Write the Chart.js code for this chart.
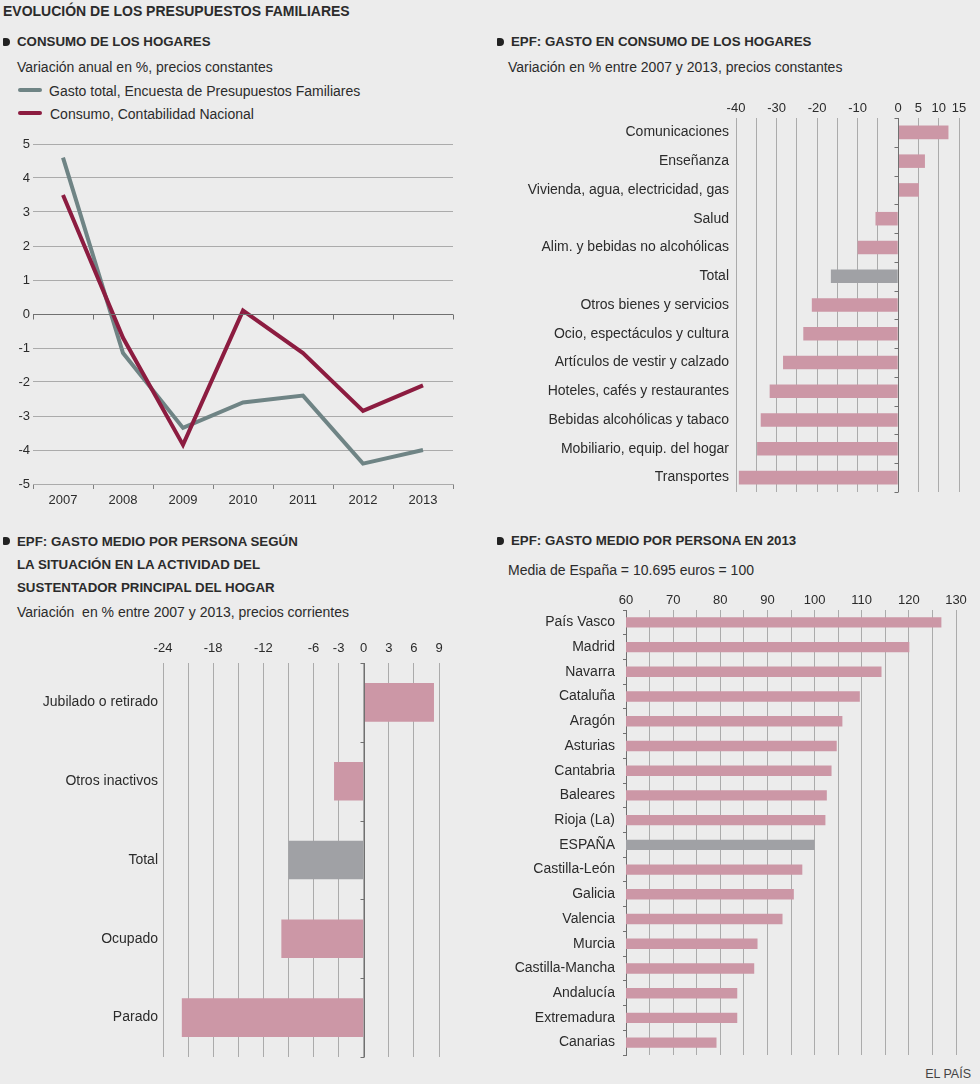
<!DOCTYPE html>
<html>
<head>
<meta charset="utf-8">
<script src="https://cdn.jsdelivr.net/npm/chart.js@4.4.1/dist/chart.umd.min.js"></script>
<style>
  body { margin: 0; background: #ececec; width: 980px; height: 1084px; overflow: hidden;
         font-family: "Liberation Sans", Arial, sans-serif; color: #2b2b2b; }
  .t { position: absolute; white-space: pre; line-height: 16px; font-size: 14px; }
  .b { font-weight: bold; font-size: 13.3px; }
  .bul { position: absolute; width: 7px; height: 8px; background: #222; border-radius: 1px 4px 4px 1px; }
  .sw { position: absolute; width: 24px; height: 4px; border-radius: 2px; }
  canvas { position: absolute; }
</style>
</head>
<body>

<div class="t b" style="left:3px;top:3px;font-size:14px">EVOLUCIÓN DE LOS PRESUPUESTOS FAMILIARES</div>

<!-- top left -->
<div class="bul" style="left:3px;top:38px"></div>
<div class="t b" style="left:17px;top:34px">CONSUMO DE LOS HOGARES</div>
<div class="t" style="left:17px;top:59px">Variación anual en %, precios constantes</div>
<div class="sw" style="left:18px;top:88px;background:#6f8485"></div>
<div class="t" style="left:49px;top:83px">Gasto total, Encuesta de Presupuestos Familiares</div>
<div class="sw" style="left:18px;top:111px;background:#8c1c40"></div>
<div class="t" style="left:50px;top:106px">Consumo, Contabilidad Nacional</div>
<canvas id="lineChart" width="470" height="390" style="left:0;top:130px"></canvas>

<!-- top right -->
<div class="bul" style="left:497px;top:38px"></div>
<div class="t b" style="left:511px;top:34px">EPF: GASTO EN CONSUMO DE LOS HOGARES</div>
<div class="t" style="left:508px;top:59px">Variación en % entre 2007 y 2013, precios constantes</div>
<canvas id="gruposChart" width="490" height="400" style="left:490px;top:96px"></canvas>

<!-- bottom left -->
<div class="bul" style="left:3px;top:537px"></div>
<div class="t b" style="left:17px;top:534px">EPF: GASTO MEDIO POR PERSONA SEGÚN</div>
<div class="t b" style="left:17px;top:557px">LA SITUACIÓN EN LA ACTIVIDAD DEL</div>
<div class="t b" style="left:17px;top:580px">SUSTENTADOR PRINCIPAL DEL HOGAR</div>
<div class="t" style="left:17px;top:604px">Variación  en % entre 2007 y 2013, precios corrientes</div>
<canvas id="situacionChart" width="480" height="420" style="left:0;top:641px"></canvas>

<!-- bottom right -->
<div class="bul" style="left:497px;top:537px"></div>
<div class="t b" style="left:511px;top:533px">EPF: GASTO MEDIO POR PERSONA EN 2013</div>
<div class="t" style="left:508px;top:562px">Media de España = 10.695 euros = 100</div>
<canvas id="comunidadChart" width="490" height="471" style="left:490px;top:588px"></canvas>

<div class="t" style="right:9px;top:1066px;font-size:12.5px;color:#444">EL PAÍS</div>

<script>
// Consumo de los hogares, variación anual
const years = ["2007", "2008", "2009", "2010", "2011", "2012", "2013"];
const gastoTotalEPF = [4.6, -1.15, -3.35, -2.6, -2.4, -4.4, -4.0];
const consumoCN = [3.5, -0.7, -3.85, 0.1, -1.15, -2.85, -2.1];

// Gasto en consumo por grupos, 2007-2013
const grupos = ["Comunicaciones", "Enseñanza", "Vivienda, agua, electricidad, gas", "Salud",
  "Alim. y bebidas no alcohólicas", "Total", "Otros bienes y servicios",
  "Ocio, espectáculos y cultura", "Artículos de vestir y calzado", "Hoteles, cafés y restaurantes",
  "Bebidas alcohólicas y tabaco", "Mobiliario, equip. del hogar", "Transportes"];
const variacionGrupos = [12.4, 6.6, 5.1, -5.6, -10.0, -16.6, -21.3, -23.4, -28.4, -31.7, -33.9, -34.8, -39.3];
const gruposTicks = [-40, -30, -20, -10, 0, 5, 10, 15];

// Situación del sustentador principal
const situaciones = ["Jubilado o retirado", "Otros inactivos", "Total", "Ocupado", "Parado"];
const variacionSituacion = [8.4, -3.55, -9.0, -9.85, -21.75];
const situacionTicks = [-24, -18, -12, -6, -3, 0, 3, 6, 9];

// Gasto medio por persona en 2013 (España = 100)
const comunidades = ["País Vasco", "Madrid", "Navarra", "Cataluña", "Aragón", "Asturias", "Cantabria",
  "Baleares", "Rioja (La)", "ESPAÑA", "Castilla-León", "Galicia", "Valencia", "Murcia",
  "Castilla-Mancha", "Andalucía", "Extremadura", "Canarias"];
const indiceGasto = [126.9, 120.1, 114.2, 109.6, 105.9, 104.7, 103.6, 102.6, 102.3, 100,
  97.4, 95.6, 93.2, 87.9, 87.2, 83.6, 83.6, 79.2];
const comunidadTicks = [60, 70, 80, 90, 100, 110, 120, 130];

const PINK = "#cc97a6";
const GREY = "#a0a1a5";
const GRID = "#ababab";

Chart.defaults.font.family = "'Liberation Sans', Arial, sans-serif";
Chart.defaults.font.size = 13;
Chart.defaults.color = "#2b2b2b";
Chart.defaults.animation = false;
Chart.defaults.plugins.legend.display = false;
Chart.defaults.plugins.tooltip.enabled = false;

// zero line with little ticks at the category boundaries
function zeroAxis(valueId, catId, tickLen) {
  return {
    id: "zeroAxis",
    afterDatasetsDraw(chart) {
      const vs = chart.scales[valueId], cs = chart.scales[catId];
      const a = chart.chartArea, ctx = chart.ctx;
      const n = cs.getLabels().length;
      const step = cs.getPixelForValue(1) - cs.getPixelForValue(0);
      const p0 = Math.round(vs.getPixelForValue(0)) + 0.5;
      ctx.save();
      ctx.strokeStyle = "#707070";
      ctx.lineWidth = 1;
      ctx.beginPath();
      for (let i = 0; i <= n; i++) {
        const b = Math.round(cs.getPixelForValue(i) - step / 2) + 0.5;
        if (valueId === "y") { ctx.moveTo(b, p0); ctx.lineTo(b, p0 + tickLen); }
        else { ctx.moveTo(p0, b); ctx.lineTo(p0 - tickLen, b); }
      }
      if (valueId === "y") { ctx.moveTo(a.left, p0); ctx.lineTo(a.right, p0); }
      else { ctx.moveTo(p0, a.top); ctx.lineTo(p0, a.bottom); }
      ctx.stroke();
      ctx.restore();
    }
  };
}

// Line chart
new Chart(document.getElementById("lineChart"), {
  type: "line",
  data: {
    labels: years,
    datasets: [
      { label: "Gasto total, Encuesta de Presupuestos Familiares", data: gastoTotalEPF,
        borderColor: "#6f8485", borderWidth: 4, pointRadius: 0, order: 1 },
      { label: "Consumo, Contabilidad Nacional", data: consumoCN,
        borderColor: "#8c1c40", borderWidth: 4, pointRadius: 0, order: 0 }
    ]
  },
  options: {
    responsive: false,
    layout: { padding: { top: 14, right: 17, left: 0, bottom: 0 } },
    scales: {
      x: {
        offset: true,
        grid: { offset: true, drawOnChartArea: false, drawTicks: true, tickLength: 5, color: "#808080" },
        border: { color: GRID },
        ticks: { padding: 4, maxRotation: 0 },
        afterFit: s => { s.height = 36; }
      },
      y: {
        min: -5, max: 5,
        ticks: { stepSize: 1, padding: 3 },
        grid: { color: GRID, drawTicks: false },
        border: { display: false },
        afterFit: s => { s.width = 33; }
      }
    }
  },
  plugins: [zeroAxis("y", "x", 5)]
});

function hbar(id, labels, values, opts) {
  return new Chart(document.getElementById(id), {
    type: "bar",
    data: {
      labels: labels,
      datasets: [{
        data: values,
        backgroundColor: labels.map(l => (l === "Total" || l === "ESPAÑA") ? GREY : PINK),
        borderWidth: 0,
        barPercentage: opts.bar,
        categoryPercentage: 1
      }]
    },
    options: {
      responsive: false,
      indexAxis: "y",
      layout: { padding: { top: 0, right: opts.right, left: 0, bottom: 4 } },
      scales: {
        x: {
          position: "top",
          min: opts.min, max: opts.max,
          ticks: {
            stepSize: opts.step, padding: opts.xpad,
            maxRotation: 0, minRotation: 0, autoSkip: false,
            callback: v => opts.ticks.includes(v) ? String(v) : ""
          },
          grid: { color: GRID, drawTicks: false },
          border: { display: false },
          afterFit: s => { s.height = 22; s.paddingLeft = 0; s.paddingRight = 0; }
        },
        y: {
          ticks: { padding: opts.ypad, font: { size: 14 }, autoSkip: false },
          grid: opts.axisTicks
            ? { offset: true, drawOnChartArea: false, drawTicks: true, tickLength: 3, color: "#707070" }
            : { display: false, drawTicks: false },
          border: { display: !!opts.axisTicks, color: "#707070" },
          afterFit: s => { s.width = opts.left; s.paddingTop = 0; s.paddingBottom = 0; }
        }
      }
    },
    plugins: opts.axisTicks ? [] : [zeroAxis("x", "y", 4)]
  });
}

hbar("gruposChart", grupos, variacionGrupos,
  { min: -40, max: 15, step: 5, ticks: gruposTicks, left: 246, right: 21, xpad: 2, ypad: 7, bar: 0.47 });

hbar("situacionChart", situaciones, variacionSituacion,
  { min: -24, max: 9, step: 3, ticks: situacionTicks, left: 163, right: 41, xpad: 7, ypad: 5, bar: 0.49 });

hbar("comunidadChart", comunidades, indiceGasto,
  { min: 60, max: 130, step: 5, ticks: comunidadTicks, left: 136, right: 24, xpad: 2, ypad: 8, bar: 0.42, axisTicks: true });
</script>
</body>
</html>
